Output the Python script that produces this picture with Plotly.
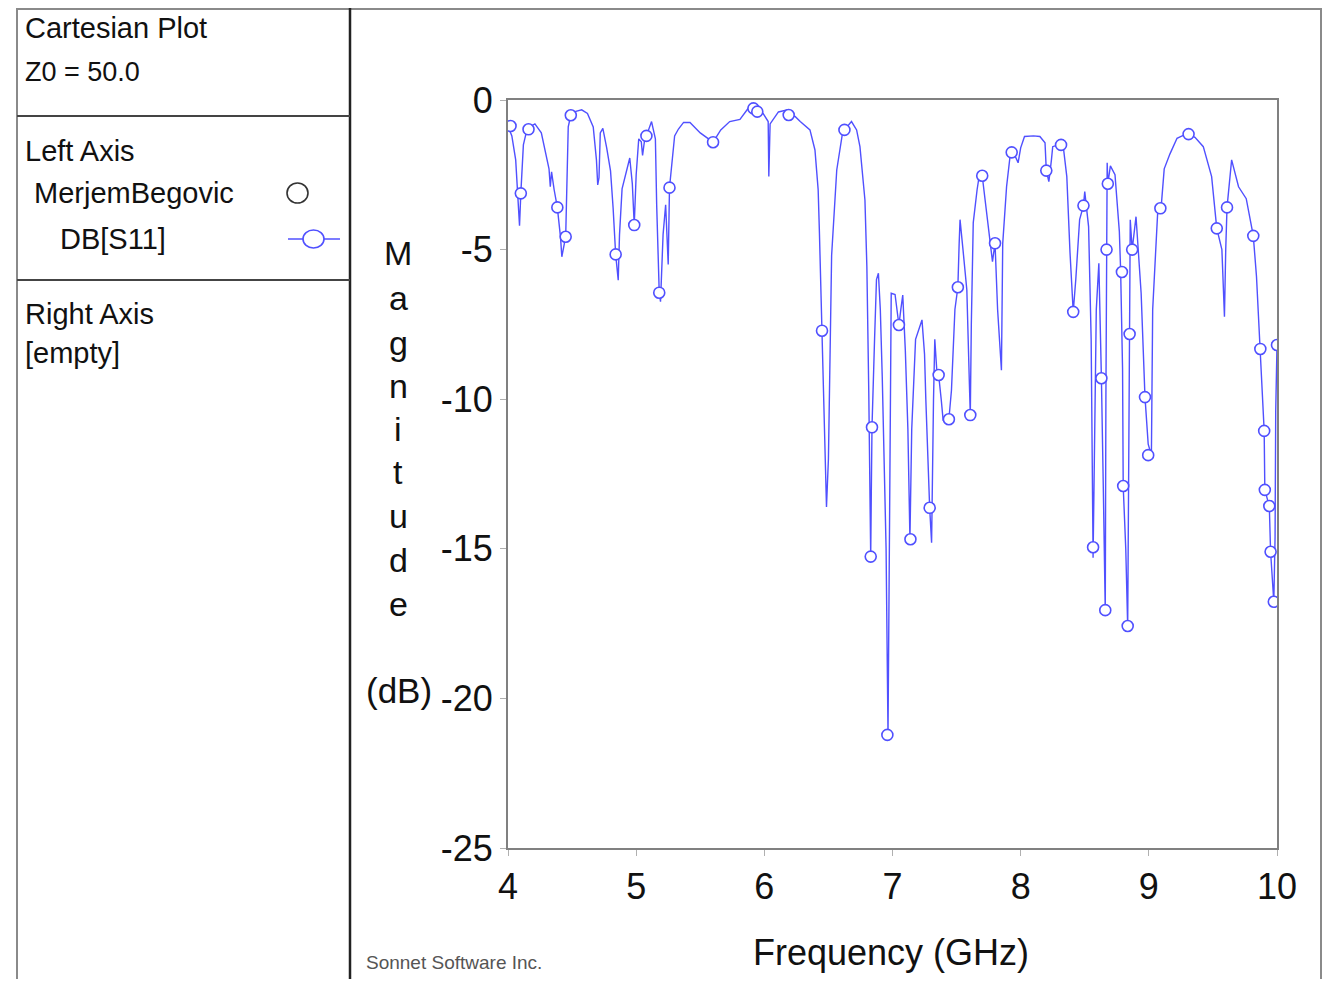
import plotly.graph_objects as go

# ---- data ----
freq_line = [4.00, 4.03, 4.06, 4.08, 4.09, 4.10, 4.12, 4.15, 4.21, 4.26, 4.29, 4.32, 4.33, 4.34, 4.36,
             4.385, 4.41, 4.42, 4.45, 4.46, 4.47, 4.49, 4.53, 4.575, 4.62, 4.665, 4.69, 4.70, 4.71, 4.72,
             4.74, 4.77, 4.80, 4.82, 4.84, 4.86, 4.87, 4.89, 4.92, 4.95, 4.97, 4.985, 5.00, 5.02, 5.04,
             5.05, 5.07, 5.08, 5.12, 5.15, 5.16, 5.18, 5.19, 5.21, 5.23, 5.25, 5.26, 5.28, 5.30, 5.33,
             5.37, 5.42, 5.50, 5.60, 5.66, 5.73, 5.81, 5.87, 5.90, 5.915, 5.945, 5.99, 6.03, 6.035, 6.045,
             6.11, 6.18, 6.19, 6.24, 6.28, 6.356, 6.395, 6.42, 6.43, 6.45, 6.47, 6.485, 6.50, 6.515, 6.525,
             6.565, 6.61, 6.625, 6.68, 6.72, 6.746, 6.785, 6.80, 6.815, 6.83, 6.835, 6.84, 6.86, 6.875, 6.89,
             6.905, 6.92, 6.95, 6.965, 6.975, 6.985, 6.99, 7.02, 7.05, 7.065, 7.08, 7.10, 7.12, 7.136, 7.15,
             7.18, 7.23, 7.25, 7.26, 7.29, 7.305, 7.32, 7.33, 7.345, 7.36, 7.38, 7.395, 7.44, 7.46, 7.487,
             7.51, 7.52, 7.527, 7.55, 7.58, 7.60, 7.607, 7.615, 7.63, 7.66, 7.68, 7.70, 7.75, 7.78, 7.80,
             7.82, 7.85, 7.86, 7.89, 7.92, 7.93, 7.96, 7.98, 8.00, 8.03, 8.10, 8.15, 8.19, 8.20, 8.22,
             8.24, 8.25, 8.29, 8.315, 8.33, 8.36, 8.385, 8.41, 8.43, 8.46, 8.49, 8.50, 8.53, 8.55, 8.565,
             8.575, 8.59, 8.61, 8.62, 8.63, 8.645, 8.66, 8.665, 8.67, 8.675, 8.68, 8.70, 8.736, 8.77, 8.78,
             8.795, 8.80, 8.82, 8.835, 8.845, 8.85, 8.855, 8.87, 8.90, 8.94, 8.97, 8.995, 9.02, 9.03, 9.07,
             9.095, 9.12, 9.165, 9.22, 9.26, 9.31, 9.36, 9.425, 9.49, 9.53, 9.57, 9.59, 9.60, 9.61, 9.646,
             9.70, 9.76, 9.815, 9.84, 9.87, 9.90, 9.905, 9.94, 9.95, 9.975, 9.985, 9.99, 10.00]
db_line = [-0.87, -1.2, -2.0, -3.5, -4.2, -3.12, -1.5, -0.95, -0.8, -1.1, -1.73, -2.3, -2.9, -2.4, -3.0,
           -3.59, -4.6, -5.24, -4.57, -2.0, -0.9, -0.51, -0.38, -0.33, -0.45, -0.9, -2.0, -2.84, -2.6, -1.1,
           -0.95, -1.6, -2.37, -3.6, -5.16, -6.02, -4.5, -2.97, -2.5, -1.94, -2.8, -4.18, -2.5, -1.3, -1.4,
           -1.85, -1.2, -1.2, -0.72, -1.3, -3.5, -6.44, -6.74, -4.5, -3.5, -5.5, -2.93, -2.0, -1.2, -0.97,
           -0.75, -0.75, -1.1, -1.41, -1.0, -0.72, -0.65, -0.3, -0.13, -0.28, -0.39, -0.45, -0.72, -2.56, -0.8,
           -0.4, -0.33, -0.5, -0.55, -0.72, -1.0, -1.67, -3.0, -4.45, -7.71, -10.5, -13.6, -12.0, -7.5, -5.2,
           -2.34, -1.1, -1.0, -0.72, -1.0, -1.56, -3.34, -5.57, -9.8, -15.26, -13.0, -10.94, -8.0, -6.0, -5.79,
           -7.0, -9.25, -15.0, -21.22, -14.0, -8.0, -6.46, -6.5, -7.52, -7.0, -6.52, -8.36, -11.0, -14.68, -11.0,
           -8.0, -7.35, -8.5, -10.0, -13.63, -14.8, -10.0, -8.0, -9.0, -9.19, -10.0, -10.7, -10.67, -9.7, -7.0,
           -6.26, -4.8, -4.0, -5.0, -6.35, -9.5, -10.53, -7.5, -4.1, -3.0, -2.44, -2.53, -4.45, -5.4, -4.79,
           -7.0, -9.03, -4.8, -2.9, -1.78, -1.75, -1.9, -2.1, -1.6, -1.22, -1.2, -1.22, -1.43, -2.36, -2.73,
           -2.0, -1.56, -1.5, -1.5, -1.47, -2.56, -5.1, -7.08, -6.0, -4.0, -3.53, -3.06, -4.23, -8.0, -15.3,
           -12.0, -7.0, -5.46, -7.0, -9.3, -13.0, -17.1, -10.0, -4.95, -2.1, -2.8, -2.2, -2.5, -4.4, -5.7,
           -9.0, -12.9, -15.0, -17.6, -12.0, -7.8, -4.0, -5.0, -3.9, -6.46, -9.93, -11.5, -11.87, -7.0, -3.68,
           -3.64, -2.3, -1.8, -1.28, -1.2, -1.14, -1.25, -1.56, -2.56, -4.29, -5.0, -7.24, -5.0, -3.59, -2.0,
           -2.9, -3.3, -4.54, -5.9, -8.32, -11.06, -13.03, -13.57, -15.1, -16.77, -14.6, -10.4, -8.19]

freq_mark = [4.02, 4.10, 4.16, 4.385, 4.45, 4.49, 4.84, 4.985, 5.08, 5.18, 5.26, 5.60, 5.915, 5.945, 6.19,
             6.45, 6.625, 6.83, 6.84, 6.96, 7.05, 7.14, 7.29, 7.36, 7.44, 7.51, 7.607, 7.70, 7.80, 7.93,
             8.20, 8.315, 8.41, 8.49, 8.565, 8.63, 8.66, 8.67, 8.68, 8.79, 8.80, 8.835, 8.85, 8.87, 8.97,
             8.995, 9.09, 9.31, 9.53, 9.61, 9.815, 9.87, 9.90, 9.905, 9.94, 9.95, 9.975, 10.00]
db_mark = [-0.87, -3.12, -0.98, -3.59, -4.57, -0.51, -5.16, -4.18, -1.2, -6.44, -2.93, -1.41, -0.28, -0.39, -0.5,
           -7.71, -1.0, -15.26, -10.94, -21.22, -7.52, -14.68, -13.63, -9.19, -10.67, -6.26, -10.53, -2.53, -4.79, -1.75,
           -2.36, -1.5, -7.08, -3.53, -14.95, -9.3, -17.05, -5.0, -2.8, -5.75, -12.9, -17.58, -7.82, -5.0, -9.93,
           -11.87, -3.62, -1.14, -4.29, -3.59, -4.54, -8.32, -11.06, -13.03, -13.57, -15.1, -16.77, -8.19]

x_ticks = [4, 5, 6, 7, 8, 9, 10]
x_tick_text = ["4", "5", "6", "7", "8", "9", "10"]
y_ticks = [0, -5, -10, -15, -20, -25]
y_tick_text = ["0", "-5", "-10", "-15", "-20", "-25"]

# ---- page geometry (page pixels; the page body adds an 8px offset) ----
OFF = 8
W, H = 1331 - OFF, 987 - 2 * OFF
PL, PR, PT, PB = 508, 1277, 100, 848


def px(x):
    return (x - PL) / (PR - PL)


def py(y):
    return (PB - y) / (PB - PT)


BLUE = "rgb(80,80,255)"
FONT = "Liberation Sans, Arial, sans-serif"

fig = go.Figure()
fig.add_trace(go.Scatter(x=freq_line, y=db_line, mode="lines",
                         line=dict(color=BLUE, width=1.4), showlegend=False, hoverinfo="skip"))
fig.add_trace(go.Scatter(x=freq_mark, y=db_mark, mode="markers",
                         marker=dict(symbol="circle", size=11, color="white",
                                     line=dict(color=BLUE, width=1.6)),
                         showlegend=False))

shapes = []
def line(x0, y0, x1, y1, color, width):
    shapes.append(dict(type="line", xref="paper", yref="paper",
                       x0=px(x0), y0=py(y0), x1=px(x1), y1=py(y1),
                       line=dict(color=color, width=width), layer="above"))

BOTTOM = OFF + H
RIGHT = 1321
# outer frame and left panel
line(17, 9, RIGHT, 9, "#8a8a8a", 2)
line(17, 8, 17, BOTTOM, "#8a8a8a", 2)
line(RIGHT, 8, RIGHT, BOTTOM, "#8a8a8a", 2)
line(350, 8, 350, BOTTOM, "#222222", 2.5)
line(17, 116, 350, 116, "#444444", 2)
line(17, 280, 350, 280, "#444444", 2)
# legend icon for DB[S11]
line(288, 239, 340, 239, BLUE, 1.5)
shapes.append(dict(type="circle", xref="paper", yref="paper",
                   x0=px(303), x1=px(324), y0=py(248), y1=py(230),
                   line=dict(color=BLUE, width=1.6), fillcolor="white", layer="above"))
# open circle for MerjemBegovic
shapes.append(dict(type="circle", xref="paper", yref="paper",
                   x0=px(287), x1=px(308), y0=py(203), y1=py(183),
                   line=dict(color="#333333", width=1.6), fillcolor="white", layer="above"))

ann = []
def text(t, x, y, size, color="#111111", xanchor="left", family=FONT):
    ann.append(dict(text=t, x=px(x), y=py(y), xref="paper", yref="paper",
                    xanchor=xanchor, yanchor="middle", showarrow=False,
                    font=dict(family=family, size=size, color=color)))

text("Cartesian Plot", 23, 28, 29)
text("Z0 = 50.0", 23, 72, 27)
text("Left Axis", 23, 151, 29)
text("MerjemBegovic", 32, 193, 29)
text("DB[S11]", 58, 239, 29)
text("Right Axis", 23, 314, 29)
text("[empty]", 23, 353, 29)

for letter, yy in zip("Magnitude", [253, 298, 343, 386, 429, 472, 516, 560, 604]):
    text(letter, 398, yy, 34, xanchor="center")
text("(dB)", 399, 690, 35, xanchor="center")
text("Frequency (GHz)", 891, 952, 36, xanchor="center")
text("Sonnet Software Inc.", 364, 962, 19, color="#555555")

fig.update_layout(
    width=W, height=H,
    margin=dict(l=PL - OFF, r=W - (PR - OFF), t=PT - OFF, b=H - (PB - OFF), pad=0),
    paper_bgcolor="white", plot_bgcolor="white",
    shapes=shapes, annotations=ann,
    font=dict(family=FONT, color="#111111"),
    xaxis=dict(range=[4, 10], tickvals=x_ticks, ticktext=x_tick_text,
               showgrid=False, zeroline=False, showline=True, mirror=True,
               linecolor="#808080", linewidth=2, ticks="outside", ticklen=6,
               tickcolor="#b0b0b0", tickfont=dict(size=36, family=FONT, color="#111111")),
    yaxis=dict(range=[-25, 0], tickvals=y_ticks, ticktext=y_tick_text,
               showgrid=False, zeroline=False, showline=True, mirror=True,
               linecolor="#808080", linewidth=2, ticks="outside", ticklen=6,
               tickcolor="#b0b0b0", tickfont=dict(size=36, family=FONT, color="#111111")),
)

fig.write_html("out.html")
